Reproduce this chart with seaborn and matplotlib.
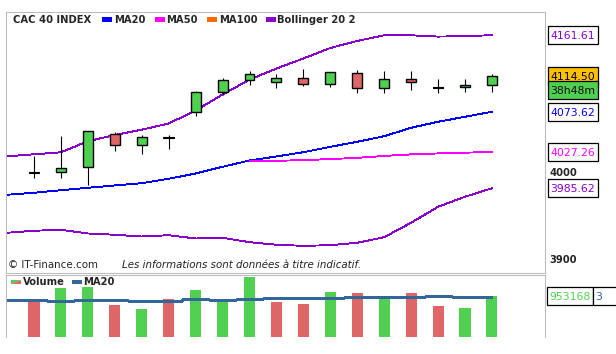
import numpy as np
import pandas as pd
import seaborn as sns
import matplotlib.pyplot as plt
from matplotlib.patches import Rectangle, Polygon
from matplotlib.transforms import blended_transform_factory

# --- data ---
candle_idx = list(range(18))
opens = [4003.6, 4004.1, 4009.8, 4047.7, 4035.1, 4043.8, 4073.0, 4096.0, 4109.8,
         4107.5, 4112.1, 4105.2, 4117.8, 4100.6, 4111.0, 4101.0, 4101.8, 4104.1]
closes = [4003.6, 4008.7, 4051.2, 4035.1, 4044.3, 4043.8, 4096.0, 4109.8, 4116.7,
          4112.1, 4105.2, 4119.0, 4100.6, 4111.0, 4107.5, 4101.0, 4104.1, 4114.5]
highs = [4022.8, 4045.8, 4051.2, 4050.0, 4046.9, 4046.9, 4097.2, 4112.4, 4120.1,
         4117.0, 4122.8, 4119.0, 4121.3, 4120.1, 4120.1, 4111.0, 4111.0, 4116.7]
lows = [3997.9, 3997.9, 3989.8, 4028.9, 4025.4, 4031.2, 4069.1, 4092.9, 4104.7,
        4101.3, 4103.6, 4102.4, 4095.5, 4095.5, 4099.0, 4095.5, 4096.7, 4096.7]

volumes = [812700, 1131200, 1154600, 742400, 648700, 882900, 1093700, 882900, 1398200,
           812700, 765800, 1046900, 1023500, 920400, 1023500, 719000, 672200, 953168]
vol_dir = ["down", "up", "up", "down", "up", "down", "up", "up", "up",
           "down", "down", "up", "down", "up", "down", "down", "up", "up"]

# indicator lines start one step before the first candle
line_idx = list(range(-1, 18))
ma20 = [3978.2, 3980.5, 3983.4, 3986.2, 3988.9, 3991.5, 3996.6, 4002.6, 4010.3, 4017.6,
        4022.2, 4027.1, 4033.3, 4039.1, 4045.5, 4055.2, 4062.1, 4067.8, 4073.62]
boll_up = [4022.4, 4024.7, 4027.0, 4039.7, 4046.9, 4053.0, 4060.1, 4075.1, 4093.4, 4110.5,
           4123.3, 4134.8, 4146.9, 4155.0, 4161.5, 4161.5, 4160.0, 4160.5, 4161.61]
boll_low = [3934.5, 3936.8, 3937.9, 3933.7, 3932.2, 3930.2, 3931.7, 3927.9, 3928.7, 3923.7,
            3920.7, 3919.5, 3920.2, 3923.0, 3929.4, 3946.0, 3964.4, 3975.9, 3985.62]
ma50_idx = list(range(8, 18))
ma50 = [4016.8, 4017.2, 4018.0, 4019.2, 4020.6, 4022.8, 4024.6, 4025.7, 4026.6, 4027.26]
vol_ma20 = [852500, 852500, 829100, 852500, 852500, 829100, 829100, 875900, 852500, 875900,
            899300, 899300, 899300, 922700, 922700, 922700, 953200, 922700, 922700]

price_ticks = [4000, 3900]
time_left = "38h48m"

GREEN = "#50D050"
RED = "#DE6666"
BOLL = "#8800CC"
BLUE = "#0000FF"
MAG = "#FF00FF"
ORANGE = "#FF6A00"
VOLMA = "#336699"
FRAME = "#BBBBBB"

W, H = 616, 354


def fx(x):
    return x / W


def fy(y):
    return 1 - y / H


sns.set_style("white")
plt.rcParams["font.family"] = ["DejaVu Sans"]

fig = plt.figure(figsize=(W / 100, H / 100), dpi=100)
ax = fig.add_axes([fx(6), fy(272.7), (545 - 6) / W, (272.7 - 11.7) / H])
axv = fig.add_axes([fx(6), fy(336.7), (545 - 6) / W, (336.7 - 274.7) / H])

# --- price panel ---
line_kw = dict(linewidth=0.65, antialiased=False, ax=ax)
sns.lineplot(x=line_idx, y=boll_up, color=BOLL, **line_kw)
sns.lineplot(x=line_idx, y=boll_low, color=BOLL, **line_kw)
sns.lineplot(x=line_idx, y=ma20, color=BLUE, **line_kw)
sns.lineplot(x=ma50_idx, y=ma50, color=MAG, **line_kw)

ax.vlines(candle_idx, lows, highs, color="black", linewidth=0.8, zorder=3)
for i, o, c in zip(candle_idx, opens, closes):
    if abs(c - o) < 0.5:
        ax.bar(i, 1.2, bottom=o - 0.6, width=0.4, color="black", edgecolor="black",
               linewidth=0.8, zorder=4)
    else:
        ax.bar(i, c - o, bottom=o, width=0.37, color=GREEN if c > o else RED,
               edgecolor="black", linewidth=1.0, zorder=4)

ax.set_xlim(-1.04, 18.97)
ax.set_ylim(3888.6, 4188.6)
ax.set_xticks([])
ax.set_yticks([])
ax.set(xlabel=None, ylabel=None)
for s in ax.spines.values():
    s.set_color(FRAME)
    s.set_linewidth(0.75)

# --- volume panel ---
vol_df = pd.DataFrame({"idx": candle_idx, "volume": volumes, "dir": vol_dir})
sns.barplot(data=vol_df, x="idx", y="volume", hue="dir", native_scale=True,
            palette={"up": GREEN, "down": RED}, width=0.41, dodge=False,
            saturation=1, errorbar=None, legend=False, linewidth=0, ax=axv)
sns.lineplot(x=line_idx, y=vol_ma20, color=VOLMA, linewidth=0.75,
             drawstyle="steps-mid", antialiased=False, ax=axv)
axv.set_xlim(-1.04, 18.97)
axv.set_ylim(0, 1452000)
axv.set_xticks([])
axv.set_yticks([])
axv.set(xlabel=None, ylabel=None)
for name, s in axv.spines.items():
    s.set_color(FRAME)
    s.set_linewidth(0.75)
axv.spines["bottom"].set_visible(False)

# --- right-hand tick labels ---
blend = blended_transform_factory(fig.transFigure, ax.transData)
for t in price_ticks:
    ax.text(fx(549), t, str(t), transform=blend, fontsize=7.2, weight="bold",
            va="baseline", ha="left", clip_on=False)


def ydisp(axis, v):
    return axis.transData.transform((0, v))[1]


def value_box(yc, text, color, face="white", x0=547.5, w=50, h=18):
    fig.add_artist(Rectangle((fx(x0), (yc - h / 2) / H), w / W, h / H,
                             transform=fig.transFigure, facecolor=face,
                             edgecolor="black", linewidth=0.9))
    fig.text(fx(x0 + w / 2), yc / H, text, color=color, fontsize=7.8,
             ha="center", va="center_baseline")


value_box(ydisp(ax, boll_up[-1]), f"{boll_up[-1]:.2f}", BOLL)
y_last = ydisp(ax, closes[-1])
value_box(y_last, f"{closes[-1]:.2f}", "black", face="#FFC000")
value_box(y_last - 5 - 9, time_left, "#111111", face=GREEN)
value_box(ydisp(ax, ma20[-1]), f"{ma20[-1]:.2f}", BLUE)
value_box(ydisp(ax, ma50[-1]), f"{ma50[-1]:.2f}", MAG)
value_box(ydisp(ax, boll_low[-1]), f"{boll_low[-1]:.2f}", BOLL)

yv = ydisp(axv, volumes[-1])
value_box(yv, f"{volumes[-1]}", GREEN, x0=546.7, w=46.6, h=18.7)
fig.add_artist(Rectangle((fx(593.3), (yv - 9.35) / H), 30 / W, 18.7 / H,
                         transform=fig.transFigure, facecolor="white",
                         edgecolor="black", linewidth=0.9))
fig.text(fx(595.5), yv / H, "3", color=VOLMA, fontsize=7.8, ha="left",
         va="center_baseline")

# --- legends ---
fig.text(fx(13.3), fy(19.7), "CAC 40 INDEX", fontsize=7.2, weight="bold", va="center")
for x_sw, x_tx, col, lab in [(102.3, 114, BLUE, "MA20"), (155.3, 166, MAG, "MA50"),
                             (207.3, 218.7, ORANGE, "MA100"),
                             (265.7, 276.7, BOLL, "Bollinger 20 2")]:
    fig.add_artist(Rectangle((fx(x_sw), fy(21.5)), 10 / W, 4.5 / H,
                             transform=fig.transFigure, color=col, linewidth=0))
    fig.text(fx(x_tx), fy(19.7), lab, fontsize=7.2, weight="bold", va="center")

fig.add_artist(Polygon([(fx(11), fy(280)), (fx(20.7), fy(280)), (fx(11), fy(284.3))],
                       closed=True, transform=fig.transFigure, color=GREEN, linewidth=0))
fig.add_artist(Polygon([(fx(20.7), fy(280)), (fx(20.7), fy(284.3)), (fx(11), fy(284.3))],
                       closed=True, transform=fig.transFigure, color=RED, linewidth=0))
fig.text(fx(23), fy(282.3), "Volume", fontsize=7.2, weight="bold", va="center")
fig.add_artist(Rectangle((fx(72.3), fy(284.3)), 9.4 / W, 4.3 / H,
                         transform=fig.transFigure, color=VOLMA, linewidth=0))
fig.text(fx(83.3), fy(282.3), "MA20", fontsize=7.2, weight="bold", va="center")

# --- footnote ---
fig.text(fx(8.3), fy(265), "\u00a9 IT-Finance.com", fontsize=7.4, va="center",
         color="#222222")
fig.text(fx(122.3), fy(265), "Les informations sont données à titre indicatif.",
         fontsize=7.4, style="italic", va="center", color="#222222")

fig.savefig("out.png", dpi=100)
